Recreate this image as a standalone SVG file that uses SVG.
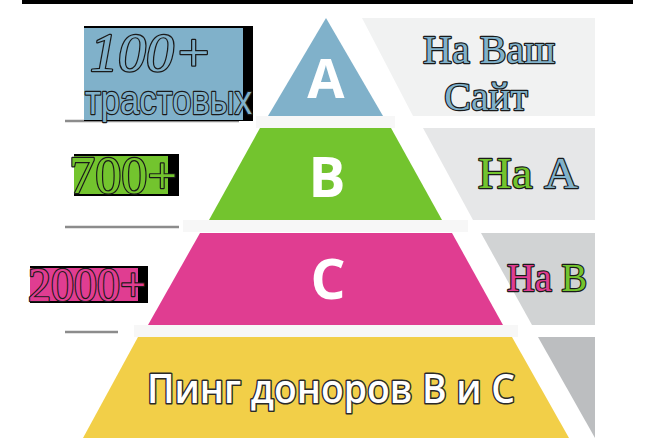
<svg xmlns="http://www.w3.org/2000/svg" width="660" height="440" viewBox="0 0 660 440">
<style>
.serif{font-family:"Liberation Serif","DejaVu Serif",serif;stroke:#1a1a1a;stroke-width:2.4;stroke-linejoin:round;paint-order:stroke}
.lvl{font-family:"Open Sans","DejaVu Sans",sans-serif;font-weight:700;fill:#ffffff;text-anchor:middle}
.strip{fill:#f7f7f7}
.tick{stroke:#8c8c8c;stroke-width:2.5}
</style>
<rect width="660" height="440" fill="#ffffff"/>
<rect x="22" y="0" width="611" height="4" fill="#000000"/>
<g id="strips">
<rect class="strip" x="256" y="116" width="139" height="12"/>
<rect class="strip" x="183" y="220" width="285" height="12"/>
<rect class="strip" x="134" y="325" width="384" height="12"/>
</g>
<g id="panels">
<polygon points="362,18 595,18 595,116 413,116" fill="#f1f2f2"/>
<polygon points="423,128 595,128 595,220 473,220" fill="#e6e7e8"/>
<polygon points="481,233 595,233 595,325 532,325" fill="#d1d3d4"/>
<polygon points="538,337 595,337 595,438" fill="#bcbec0"/>
</g>
<g id="levelA">
<polygon points="326,18 383,116 268,116" fill="#80b1ca"/>
<text class="lvl" x="326" y="98" font-size="54">A</text>
</g>
<g id="levelB">
<polygon points="260,128 391,128 442,220 209,220" fill="#73c42e"/>
<text class="lvl" x="327" y="197" font-size="55">B</text>
</g>
<g id="levelC">
<polygon points="200,233 452,233 503,325 148,325" fill="#e03d91"/>
<text class="lvl" x="328" y="299" font-size="55">C</text>
</g>
<g id="levelD">
<polygon points="138,337 512,337 569,438 83,438" fill="#f2cf48"/>
<text x="147" y="403" font-size="40" textLength="368" lengthAdjust="spacingAndGlyphs" font-family="Open Sans, DejaVu Sans, sans-serif" font-weight="600" fill="#ffffff" stroke="#2a2a2a" stroke-width="3" stroke-linejoin="round" paint-order="stroke">Пинг доноров В и С</text>
</g>
<g id="ticks">
<line class="tick" x1="65" y1="121" x2="239" y2="121"/>
<line class="tick" x1="65" y1="227" x2="179" y2="227"/>
<line class="tick" x1="65" y1="332" x2="118" y2="332"/>
</g>
<g id="label100">
<rect x="84" y="26" width="169" height="95" fill="#000000"/>
<rect x="84" y="28" width="159" height="92" fill="#80b1ca"/>
<text class="serif" x="90" y="71" font-size="54" font-style="italic" textLength="122" lengthAdjust="spacingAndGlyphs" fill="#80b1ca">100+</text>
<text x="85" y="114" font-size="40" textLength="167" lengthAdjust="spacingAndGlyphs" font-family="Liberation Sans, Arial, sans-serif" fill="#80b1ca" stroke="#1a1a1a" stroke-width="2.4" stroke-linejoin="round" paint-order="stroke">трастовых</text>
</g>
<g id="label700">
<rect x="74" y="154" width="105" height="42" fill="#000000"/>
<rect x="74" y="156" width="94" height="38" fill="#73c42e"/>
<text class="serif" x="69" y="193" font-size="52" textLength="108" lengthAdjust="spacingAndGlyphs" fill="#73c42e">700+</text>
</g>
<g id="label2000">
<rect x="30" y="266" width="118" height="37" fill="#000000"/>
<rect x="30" y="268" width="108" height="33" fill="#e03d91"/>
<text class="serif" x="28" y="301" font-size="48" textLength="118" lengthAdjust="spacingAndGlyphs" fill="#e03d91">2000+</text>
</g>
<g id="targetA">
<text class="serif" x="489" y="63" font-size="40" text-anchor="middle" fill="#80b1ca">На Ваш</text>
<text class="serif" x="486" y="110" font-size="40" text-anchor="middle" fill="#80b1ca">Сайт</text>
</g>
<g id="targetB">
<text class="serif" x="478" y="188" font-size="45" textLength="100" lengthAdjust="spacingAndGlyphs"><tspan fill="#73c42e">На </tspan><tspan fill="#80b1ca">А</tspan></text>
</g>
<g id="targetC">
<text class="serif" x="507" y="291" font-size="40" textLength="80" lengthAdjust="spacingAndGlyphs"><tspan fill="#e03d91">На </tspan><tspan fill="#73c42e">В</tspan></text>
</g>
</svg>
